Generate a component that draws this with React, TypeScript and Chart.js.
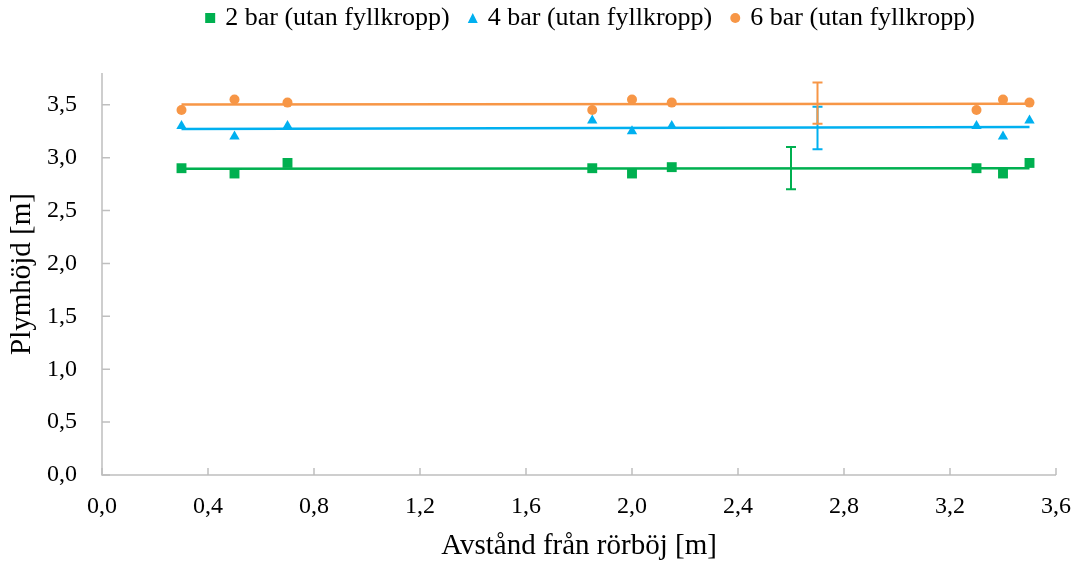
import React, { useEffect, useRef } from "react";
import { Chart, registerables } from "chart.js";

Chart.register(...registerables);

const seriesNames = ["2 bar (utan fyllkropp)", "4 bar (utan fyllkropp)", "6 bar (utan fyllkropp)"];
const seriesColors = ["#00B050", "#00B0F0", "#F79646"];
const seriesStyles = ["rect", "triangle", "circle"];
const xValues = [0.3, 0.5, 0.7, 1.85, 2.0, 2.15, 3.3, 3.4, 3.5];
const bar2 = [2.9, 2.85, 2.95, 2.9, 2.85, 2.91, 2.9, 2.85, 2.95];
const bar4 = [3.3, 3.2, 3.3, 3.35, 3.25, 3.3, 3.3, 3.2, 3.35];
const bar6 = [3.45, 3.55, 3.52, 3.45, 3.55, 3.52, 3.45, 3.55, 3.52];
const trendX = [0.3, 3.5];
const trend2 = [2.895, 2.9];
const trend4 = [3.27, 3.29];
const trend6 = [3.503, 3.51];
const errX = [2.6, 2.7, 2.7];
const errY = [2.9, 3.28, 3.515];
const errDelta = [0.2, 0.2, 0.195];
const xTicks = [0, 0.4, 0.8, 1.2, 1.6, 2.0, 2.4, 2.8, 3.2, 3.6];
const yTicks = [0, 0.5, 1.0, 1.5, 2.0, 2.5, 3.0, 3.5];

const FONT = "'Liberation Serif', 'Times New Roman', serif";
const AXIS_COLOR = "#BFBFBF";

const fmt = (v: number) => v.toFixed(1).replace(".", ",");

export default function App() {
  const ref = useRef<HTMLCanvasElement | null>(null);

  useEffect(() => {
    if (!ref.current) return;
    const series = [bar2, bar4, bar6];
    const trends = [trend2, trend4, trend6];

    const scatterSets = series.map((vals, i) => ({
      type: "scatter" as const,
      label: seriesNames[i],
      data: xValues.map((x, j) => ({ x, y: vals[j] })),
      backgroundColor: seriesColors[i],
      borderColor: seriesColors[i],
      pointStyle: seriesStyles[i],
      pointRadius: i === 0 ? 7 : i === 1 ? 6 : 5,
      pointBorderWidth: 0,
      showLine: false,
      order: 1,
    }));
    const trendSets = trends.map((vals, i) => ({
      type: "line" as const,
      label: "trend" + i,
      data: trendX.map((x, j) => ({ x, y: vals[j] })),
      borderColor: seriesColors[i],
      borderWidth: 2.5,
      pointRadius: 0,
      fill: false,
      order: 2,
    }));

    const axesPlugin = {
      id: "axesPlugin",
      beforeDatasetsDraw(chart: any) {
        const { ctx, chartArea, scales } = chart;
        ctx.save();
        ctx.strokeStyle = AXIS_COLOR;
        ctx.lineWidth = 1.5;
        ctx.beginPath();
        ctx.moveTo(chartArea.left, chartArea.top);
        ctx.lineTo(chartArea.left, chartArea.bottom);
        ctx.lineTo(chartArea.right, chartArea.bottom);
        ctx.stroke();
        ctx.beginPath();
        xTicks.forEach((t) => {
          const px = scales.x.getPixelForValue(t);
          ctx.moveTo(px, chartArea.bottom);
          ctx.lineTo(px, chartArea.bottom - 7);
        });
        yTicks.forEach((t) => {
          const py = scales.y.getPixelForValue(t);
          ctx.moveTo(chartArea.left, py);
          ctx.lineTo(chartArea.left + 8, py);
        });
        ctx.stroke();
        ctx.restore();
      },
    };

    const errPlugin = {
      id: "errPlugin",
      afterDatasetsDraw(chart: any) {
        const { ctx, scales } = chart;
        ctx.save();
        ctx.lineWidth = 2;
        errX.forEach((x, i) => {
          const px = scales.x.getPixelForValue(x);
          const top = scales.y.getPixelForValue(errY[i] + errDelta[i]);
          const bot = scales.y.getPixelForValue(errY[i] - errDelta[i]);
          ctx.strokeStyle = seriesColors[i];
          ctx.beginPath();
          ctx.moveTo(px, top);
          ctx.lineTo(px, bot);
          ctx.moveTo(px - 5, top);
          ctx.lineTo(px + 5, top);
          ctx.moveTo(px - 5, bot);
          ctx.lineTo(px + 5, bot);
          ctx.stroke();
        });
        ctx.restore();
      },
    };

    // Custom legend (Excel-like spacing)
    const legendPlugin = {
      id: "customLegend",
      afterDraw(chart: any) {
        const { ctx } = chart;
        ctx.save();
        ctx.font = `26px ${FONT}`;
        ctx.textBaseline = "middle";
        ctx.textAlign = "left";
        const marker = 10;
        const gapAfterMarker = 10;
        const gapAfterText = 18;
        const widths = seriesNames.map((n) => ctx.measureText(n).width);
        const total =
          widths.reduce((a, b) => a + b, 0) +
          seriesNames.length * (marker + gapAfterMarker) +
          (seriesNames.length - 1) * gapAfterText;
        const cy = 18;
        let x = 590 - total / 2;
        seriesNames.forEach((name, i) => {
          ctx.fillStyle = seriesColors[i];
          const cx = x + marker / 2;
          ctx.beginPath();
          if (seriesStyles[i] === "rect") {
            ctx.rect(x, cy - marker / 2, marker, marker);
          } else if (seriesStyles[i] === "triangle") {
            ctx.moveTo(cx, cy - marker / 2);
            ctx.lineTo(x + marker, cy + marker / 2);
            ctx.lineTo(x, cy + marker / 2);
            ctx.closePath();
          } else {
            ctx.arc(cx, cy, marker / 2, 0, Math.PI * 2);
          }
          ctx.fill();
          x += marker + gapAfterMarker;
          ctx.fillStyle = "#000";
          ctx.fillText(name, x, cy);
          x += widths[i] + gapAfterText;
        });
        ctx.restore();
      },
    };

    const chart = new Chart(ref.current, {
      type: "scatter",
      data: { datasets: [...scatterSets, ...trendSets] as any },
      options: {
        animation: false,
        responsive: true,
        maintainAspectRatio: false,
        layout: { padding: { top: 73, left: 0, right: 25, bottom: 0 } },
        plugins: {
          tooltip: { enabled: false },
          legend: { display: false },
        },
        scales: {
          x: {
            type: "linear",
            min: 0,
            max: 3.6,
            grid: { display: false, drawTicks: false },
            border: { display: false },
            afterBuildTicks: (scale: any) => {
              scale.ticks = xTicks.map((v) => ({ value: v }));
            },
            afterFit: (scale: any) => {
              scale.height = 89;
              scale.paddingLeft = 0;
              scale.paddingRight = 0;
            },
            ticks: {
              padding: 17,
              color: "#000",
              font: { family: FONT, size: 24 },
              callback: (v: any) => fmt(Number(v)),
              maxRotation: 0,
            },
            title: {
              display: true,
              text: "Avstånd från rörböj [m]",
              color: "#000",
              font: { family: FONT, size: 29 },
              padding: { top: 0, bottom: 0 },
            },
          },
          y: {
            type: "linear",
            min: 0,
            max: 3.8,
            grid: { display: false, drawTicks: false },
            border: { display: false },
            afterBuildTicks: (scale: any) => {
              scale.ticks = yTicks.map((v) => ({ value: v }));
            },
            afterFit: (scale: any) => {
              scale.width = 102;
              scale.paddingTop = 0;
              scale.paddingBottom = 0;
            },
            ticks: {
              padding: 25,
              color: "#000",
              font: { family: FONT, size: 24 },
              callback: (v: any) => fmt(Number(v)),
            },
            title: {
              display: true,
              text: "Plymhöjd [m]",
              color: "#000",
              font: { family: FONT, size: 29 },
              padding: { top: 5, bottom: 0 },
            },
          },
        },
      },
      plugins: [axesPlugin, errPlugin, legendPlugin],
    });
    return () => chart.destroy();
  }, []);

  return (
    <div style={{ position: "absolute", left: 0, top: 0, width: 1081, height: 564, background: "#fff" }}>
      <canvas ref={ref} />
    </div>
  );
}
